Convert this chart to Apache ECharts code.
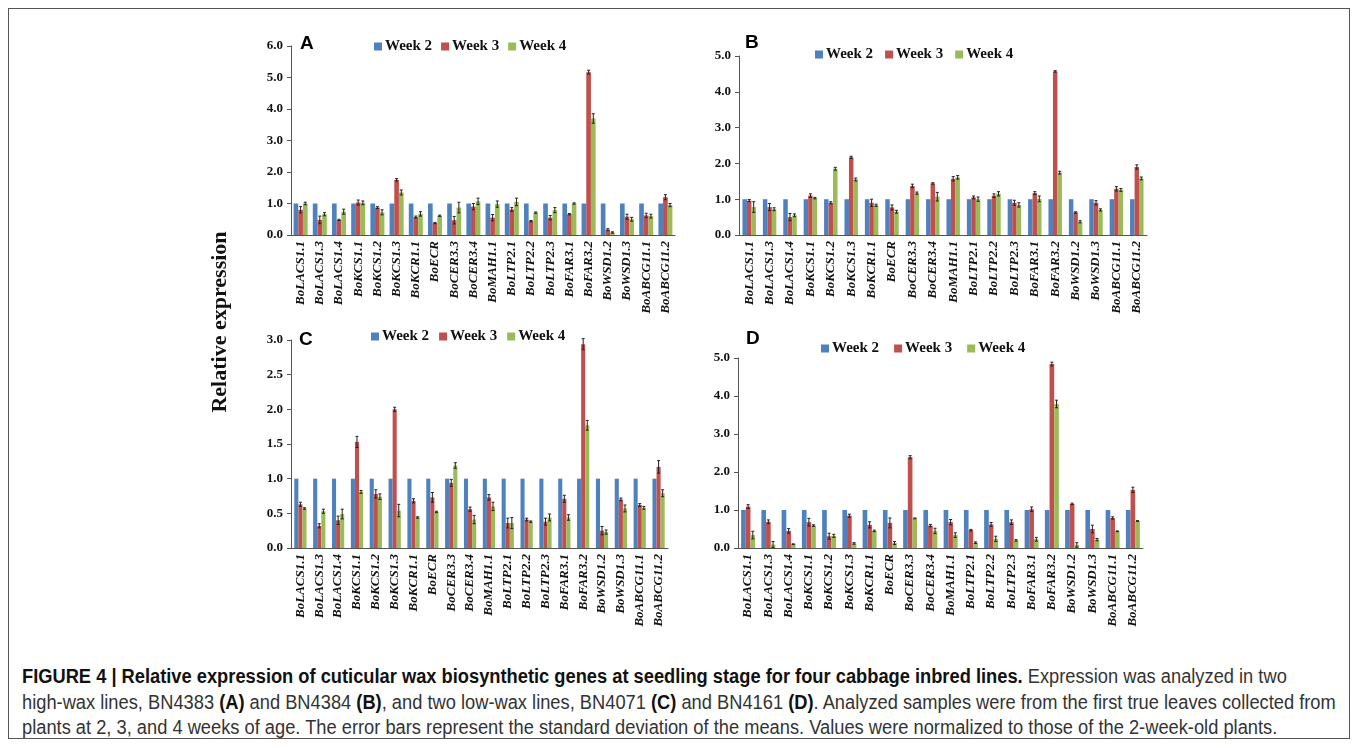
<!DOCTYPE html>
<html>
<head>
<meta charset="utf-8">
<script src="https://cdn.jsdelivr.net/npm/echarts@6/dist/echarts.min.js"></script>
<style>
body{margin:0;background:#fff;}
#frame{position:absolute;left:8px;top:8px;width:1342px;height:731px;border:1px solid #555;box-sizing:border-box;}
#chart{position:absolute;left:0;top:0;width:1358px;height:640px;}
#caption{position:absolute;left:22px;top:664px;font-family:"Liberation Sans",sans-serif;font-size:20px;line-height:25.5px;color:#333;white-space:nowrap;transform:scaleX(0.914);transform-origin:0 0;}
#caption b{color:#111;}
</style>
</head>
<body>
<div id="frame"></div>
<div id="chart"></div>
<div id="caption"><b>FIGURE 4 | Relative expression of cuticular wax biosynthetic genes at seedling stage for four cabbage inbred lines.</b> Expression was analyzed in two<br>high-wax lines, BN4383 <b>(A)</b> and BN4384 <b>(B)</b>, and two low-wax lines, BN4071 <b>(C)</b> and BN4161 <b>(D)</b>. Analyzed samples were from the first true leaves collected from<br>plants at 2, 3, and 4 weeks of age. The error bars represent the standard deviation of the means. Values were normalized to those of the 2-week-old plants.</div>
<script>
var genes = ['BoLACS1.1','BoLACS1.3','BoLACS1.4','BoKCS1.1','BoKCS1.2','BoKCS1.3','BoKCR1.1','BoECR',
	'BoCER3.3','BoCER3.4','BoMAH1.1','BoLTP2.1','BoLTP2.2','BoLTP2.3','BoFAR3.1','BoFAR3.2',
	'BoWSD1.2','BoWSD1.3','BoABCG11.1','BoABCG11.2'];
var weekNames = ['Week 2','Week 3','Week 4'];

// week 2 is the reference (normalized to 1)
var week2 = [1,1,1,1,1,1,1,1,1,1,1,1,1,1,1,1,1,1,1,1];

// A - BN4383
var aWeek3 = [0.80,0.48,0.48,1.03,0.87,1.75,0.57,0.38,0.47,0.90,0.55,0.81,0.44,0.55,0.66,5.17,0.17,0.58,0.62,1.20];
var aWeek4 = [1.00,0.66,0.74,1.02,0.72,1.35,0.67,0.61,0.87,1.07,0.98,1.05,0.71,0.79,1.00,3.70,0.08,0.50,0.60,0.95];
var aErr3 = [0.10,0.12,0.02,0.08,0.03,0.04,0.03,0.02,0.12,0.10,0.10,0.06,0.02,0.07,0.02,0.06,0.03,0.08,0.07,0.08];
var aErr4 = [0.04,0.05,0.08,0.06,0.08,0.08,0.07,0.02,0.17,0.10,0.10,0.12,0.02,0.08,0.02,0.15,0.02,0.06,0.06,0.05];

// B - BN4384
var bWeek3 = [0.96,0.78,0.50,1.10,0.90,2.17,0.90,0.77,1.37,1.44,1.57,1.05,1.10,0.90,1.17,4.57,0.63,0.90,1.29,1.90];
var bWeek4 = [0.78,0.72,0.55,1.03,1.85,1.55,0.83,0.65,1.17,1.07,1.61,1.00,1.15,0.84,1.01,1.74,0.37,0.70,1.26,1.58];
var bErr3 = [0.03,0.10,0.10,0.05,0.03,0.03,0.10,0.07,0.05,0.02,0.06,0.04,0.05,0.07,0.04,0.02,0.02,0.06,0.06,0.06];
var bErr4 = [0.15,0.04,0.04,0.02,0.04,0.04,0.03,0.04,0.03,0.12,0.05,0.06,0.06,0.06,0.08,0.04,0.03,0.03,0.04,0.04];

// C - BN4071
var cWeek3 = [0.63,0.32,0.40,1.53,0.78,2.00,0.68,0.73,0.94,0.56,0.73,0.36,0.41,0.38,0.71,2.94,0.25,0.70,0.62,1.17];
var cWeek4 = [0.57,0.53,0.49,0.81,0.74,0.54,0.44,0.52,1.19,0.41,0.60,0.36,0.38,0.44,0.44,1.77,0.23,0.57,0.58,0.79];
var cErr3 = [0.03,0.03,0.06,0.08,0.06,0.03,0.03,0.07,0.05,0.03,0.04,0.07,0.02,0.05,0.05,0.08,0.06,0.02,0.02,0.09];
var cErr4 = [0.01,0.03,0.07,0.02,0.04,0.09,0.01,0.01,0.04,0.06,0.06,0.08,0.01,0.05,0.04,0.07,0.03,0.05,0.02,0.05];

// D - BN4161
var dWeek3 = [1.09,0.69,0.45,0.68,0.31,0.85,0.61,0.66,2.39,0.59,0.68,0.47,0.62,0.68,1.02,4.84,1.16,0.50,0.79,1.53];
var dWeek4 = [0.34,0.09,0.10,0.59,0.32,0.12,0.45,0.13,0.78,0.45,0.34,0.14,0.24,0.20,0.23,3.79,0.08,0.22,0.44,0.71];
var dErr3 = [0.05,0.05,0.06,0.10,0.08,0.04,0.08,0.13,0.04,0.03,0.07,0.02,0.05,0.06,0.06,0.05,0.02,0.10,0.03,0.07];
var dErr4 = [0.10,0.08,0.01,0.02,0.04,0.02,0.02,0.04,0.01,0.07,0.06,0.02,0.07,0.02,0.05,0.10,0.06,0.03,0.01,0.01];

var colors = ['#4F81BD','#C0504D','#9BBB59'];
var serif = 'Liberation Serif';

var panels = [
	{letter:'A', w3:aWeek3, w4:aWeek4, e3:aErr3, e4:aErr4, max:6, step:1,
	 grid:{left:291, top:46, width:384, height:189}, gap:0.27, legend:{left:374, top:39, gap:9}, lx:300, ly:44},
	{letter:'B', w3:bWeek3, w4:bWeek4, e3:bErr3, e4:bErr4, max:5, step:1,
	 grid:{left:739, top:56, width:408, height:179}, gap:0.34, legend:{left:815, top:47, gap:12}, lx:745, ly:43},
	{letter:'C', w3:cWeek3, w4:cWeek4, e3:cErr3, e4:cErr4, max:3, step:0.5,
	 grid:{left:291, top:340, width:377, height:208}, gap:0.35, legend:{left:371, top:329, gap:10}, lx:299, ly:340},
	{letter:'D', w3:dWeek3, w4:dWeek4, e3:dErr3, e4:dErr4, max:5, step:1,
	 grid:{left:738, top:358, width:405, height:190}, gap:0.31, legend:{left:821, top:341, gap:15}, lx:746, ly:339}
];

function errBars(gap, shift){
	return function(params, api){
		var i = api.value(0), v = api.value(1), e = api.value(2);
		var hi = api.coord([i, v + e]);
		var lo = api.coord([i, v - e]);
		var band = api.size([1, 0])[0];
		var x = hi[0] + shift * band * (1 - gap) / 3;
		var cap = 1.5;
		var st = {stroke:'#222', lineWidth:1};
		return {type:'group', children:[
			{type:'line', shape:{x1:x, y1:hi[1], x2:x, y2:lo[1]}, style:st},
			{type:'line', shape:{x1:x-cap, y1:hi[1], x2:x+cap, y2:hi[1]}, style:st},
			{type:'line', shape:{x1:x-cap, y1:lo[1], x2:x+cap, y2:lo[1]}, style:st}
		]};
	};
}

function errData(vals, errs){
	var out = [];
	for(var i=0;i<vals.length;i++){
		out.push([i, vals[i], errs[i]]);
	}
	return out;
}

var option = {
	animation:false,
	grid:[], xAxis:[], yAxis:[], legend:[], series:[],
	graphic:[{
		type:'text', x:220, y:322, rotation:Math.PI/2,
		style:{text:'Relative expression', font:'bold 22px "Liberation Serif"', fill:'#111', textAlign:'center', textVerticalAlign:'middle'}
	}]
};

for(var p=0;p<panels.length;p++){
	var pn = panels[p];
	option.grid.push(pn.grid);
	option.xAxis.push({
		type:'category', gridIndex:p, data:genes,
		axisLine:{lineStyle:{color:'#555'}},
		axisTick:{length:4, lineStyle:{color:'#555'}},
		axisLabel:{interval:0, rotate:90, margin:6, color:'#111', fontFamily:serif, fontStyle:'italic', fontWeight:'bold', fontSize:13}
	});
	option.yAxis.push({
		type:'value', gridIndex:p, min:0, max:pn.max, interval:pn.step,
		splitLine:{show:false},
		axisLine:{show:true, lineStyle:{color:'#555'}},
		axisTick:{show:true, length:4, lineStyle:{color:'#555'}},
		axisLabel:{margin:8, color:'#111', fontFamily:serif, fontWeight:'bold', fontSize:13,
			formatter:function(v){ return v.toFixed(1); }}
	});
	option.legend.push({
		left:pn.legend.left, top:pn.legend.top, padding:0, itemGap:pn.legend.gap,
		itemWidth:8, itemHeight:8, icon:'rect', data:weekNames,
		textStyle:{fontFamily:serif, fontWeight:'bold', fontSize:15, color:'#111', padding:[0,0,0,-2]}
	});
	var vals = [week2, pn.w3, pn.w4];
	for(var s=0;s<3;s++){
		option.series.push({
			name:weekNames[s], type:'bar', xAxisIndex:p, yAxisIndex:p,
			data:vals[s], barGap:'0%', barCategoryGap:(pn.gap*100)+'%',
			itemStyle:{color:colors[s]}
		});
	}
	option.series.push({
		type:'custom', xAxisIndex:p, yAxisIndex:p, z:5,
		renderItem:errBars(pn.gap, 0), data:errData(pn.w3, pn.e3), encode:{x:0, y:1}
	});
	option.series.push({
		type:'custom', xAxisIndex:p, yAxisIndex:p, z:5,
		renderItem:errBars(pn.gap, 1), data:errData(pn.w4, pn.e4), encode:{x:0, y:1}
	});
	option.graphic.push({
		type:'text', x:pn.lx, y:pn.ly,
		style:{text:pn.letter, font:'bold 19px "Liberation Sans"', fill:'#000', textVerticalAlign:'middle'}
	});
}

var myChart = echarts.init(document.getElementById('chart'));
myChart.setOption(option);
</script>
</body>
</html>
